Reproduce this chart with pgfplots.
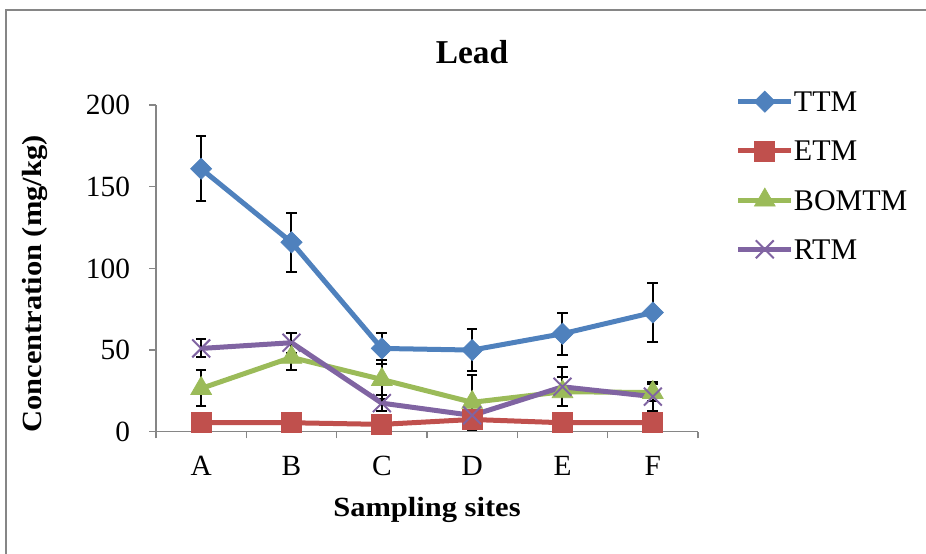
\documentclass[border=0pt]{standalone}
\usepackage{pgfplots}
\pgfplotsset{compat=1.18}
\usepackage{fontspec}
\setmainfont{Liberation Serif}
\newfontfamily\labfont[FakeStretch=1.1]{Liberation Serif}
\definecolor{ttm}{HTML}{4F81BD}
\definecolor{etm}{HTML}{C0504D}
\definecolor{bom}{HTML}{9BBB59}
\definecolor{rtm}{HTML}{8064A2}
\definecolor{axgray}{HTML}{868686}
\begin{document}
\begin{tikzpicture}[x=0.75pt,y=0.75pt]
\useasboundingbox (0,0) rectangle (926,554);
\draw[axgray, line width=1.5pt] (6,-30) rectangle (980,544);
\node[font=\fontsize{25}{30}\selectfont\bfseries, anchor=base] at (472,490) {Lead};
\node[font=\labfont\fontsize{20.8}{25}\selectfont\bfseries, anchor=base] at (427,37) {Sampling sites};
\node[font=\labfont\fontsize{20.8}{25}\selectfont\bfseries, rotate=90, anchor=base] at (41,270) {Concentration (mg/kg)};
\begin{axis}[
  at={(117pt,91.7pt)}, anchor=south west, scale only axis,
  width=406.5pt, height=245pt,
  xmin=0.5, xmax=6.5, ymin=0, ymax=200,
  axis x line*=bottom, axis y line*=left,
  axis line style={draw=axgray, line width=1.1pt, -},
  tick align=outside,
  xtick={1,2,3,4,5,6}, xticklabels={A,B,C,D,E,F},
  major x tick style={draw=none},
  minor xtick={0.5,1.5,2.5,3.5,4.5,5.5,6.5},
  minor tick length=5pt, major tick length=5pt,
  minor x tick style={draw=axgray, line width=1.1pt},
  ytick={0,50,100,150,200},
  major y tick style={draw=axgray, line width=1.1pt},
  ticklabel style={font=\fontsize{22}{26}\selectfont},
  /pgf/number format/assume math mode=true,
  xticklabel style={yshift=-10pt},
  yticklabel style={xshift=-11pt},
  clip=false,
  legend style={at={(1.069,1.05)}, anchor=north west, draw=none, fill=none,
    font=\fontsize{22.5}{27}\selectfont, row sep=17.9pt, inner sep=0pt,
    nodes={inner ysep=2pt, inner xsep=0pt, text height=15pt, text depth=0pt}},
  legend cell align=left,
  legend image code/.code={\draw[mark repeat=2,mark phase=2,#1] plot coordinates {(0pt,0pt) (20pt,0pt) (40pt,0pt)};},
  error bars/y dir=both, error bars/y explicit,
  error bars/error bar style={black, line width=1.5pt},
  error bars/error mark options={rotate=90, black, mark size=4pt, line width=1.5pt},
]
\addplot[ttm, line width=3.75pt, mark=square*, mark size=5.6pt, mark options={rotate=45, fill=ttm, line width=0.5pt}]
coordinates {(1,161) +- (0,20) (2,116) +- (0,18) (3,51) +- (0,9.5) (4,50) +- (0,13) (5,60) +- (0,13) (6,73) +- (0,18)};
\addlegendentry{TTM}
\addplot[etm, line width=3.75pt, mark=square*, mark size=7.5pt, mark options={fill=etm, line width=0.5pt}]
coordinates {(1,5.5) +- (0,1) (2,5.5) +- (0,1) (3,4.5) +- (0,1) (4,7.5) +- (0,1) (5,5.5) +- (0,1) (6,5.5) +- (0,1)};
\addlegendentry{ETM}
\addplot[bom, line width=3.75pt, mark=triangle*, mark size=9pt, mark options={fill=bom, line width=0.5pt}]
coordinates {(1,26.5) +- (0,11) (2,45.5) +- (0,8) (3,32) +- (0,12) (4,18) +- (0,17) (5,24.5) +- (0,9) (6,24) +- (0,5)};
\addlegendentry{BOMTM}
\addplot[rtm, line width=3.75pt, mark=x, mark size=9.5pt, mark options={line width=1.5pt}]
coordinates {(1,51) +- (0,5.5) (2,54.5) +- (0,6) (3,17.5) +- (0,5) (4,10) +- (0,3) (5,27.5) +- (0,12) (6,21.5) +- (0,9)};
\addlegendentry{RTM}
\end{axis}
\end{tikzpicture}
\end{document}
